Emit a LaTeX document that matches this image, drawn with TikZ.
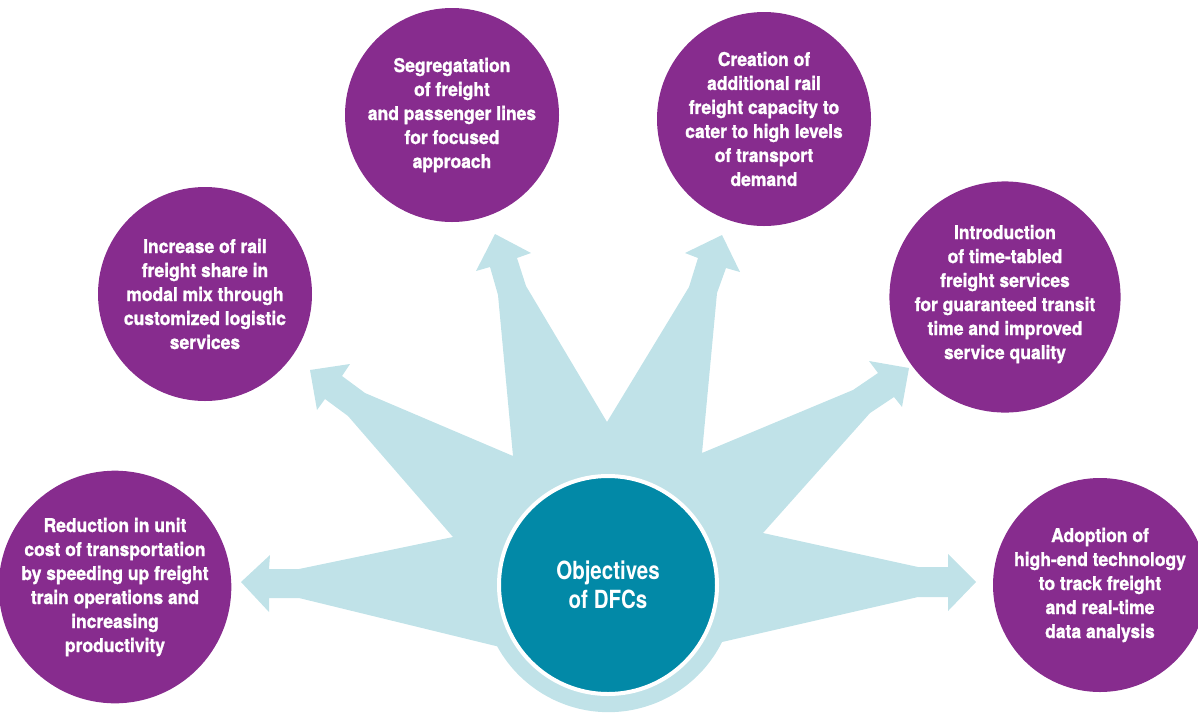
\documentclass[tikz,border=0pt]{standalone}
\usepackage{fontspec}
\setmainfont{TeX Gyre Heros}[FakeStretch=0.82]
\newfontfamily\goalfont{TeX Gyre Heros}[FakeStretch=0.92,BoldFeatures={FakeBold=1.2}]
\definecolor{plum}{HTML}{872C8E}
\definecolor{paleblue}{HTML}{C0E2E8}
\definecolor{deepteal}{HTML}{0289A7}
\begin{document}
\begin{tikzpicture}[x=1pt,y=-1pt,
  goal/.style={circle,fill=plum,minimum size=214pt,inner sep=0pt,
    text=white,align=center,font=\goalfont\fontsize{19}{24}\selectfont\bfseries},
  hub/.style={circle,fill=deepteal,draw=white,line width=4pt,minimum size=218pt,
    inner sep=0pt,text=white,align=center,font=\fontsize{25}{29}\selectfont\bfseries}]
\useasboundingbox (0,0) rectangle (1198,713);

% star of six arrows radiating from the hub
\fill[paleblue]
  (241,582) -- (270,555) -- (269,569) -- (299,569) -- (453,537)
  -- (348,416) -- (325,399) -- (317,410) -- (310,370) -- (350,364) -- (342,376) -- (365,393) -- (513,456)
  -- (498,295) -- (490,267) -- (476,271) -- (495,234) -- (531,253) -- (517,258) -- (526,286) -- (607,422)
  -- (689,287) -- (698,258) -- (685,253) -- (722,235) -- (740,272) -- (726,268) -- (717,293) -- (702,453)
  -- (853,390) -- (878,373) -- (869,361) -- (909,368) -- (902,407) -- (894,397) -- (870,413) -- (763,533)
  -- (918,567) -- (948,567) -- (948,554) -- (976,582) -- (948,611) -- (948,597) -- (918,597) -- (722,642)
  arc[start angle=26.6,end angle=151.2,radius=127]
  -- (299,598) -- (269,598) -- (269,612) -- cycle;

\node[hub] (hub) at (608,585) {Objectives\\of DFCs};

\node[goal] (cost) at (115,587) {Reduction in unit\\cost of transportation\\by speeding up freight\\train operations and\\increasing\\productivity};
\node[goal] (share) at (205,294) {Increase of rail\\freight share in\\modal mix through\\customized logistic\\services};
\node[goal] (segr) at (452,115) {Segregatation\\of freight\\and passenger lines\\for focused\\approach};
\node[goal] (capa) at (764,119) {Creation of\\additional rail\\freight capacity to\\cater to high levels\\of transport\\demand};
\node[goal,text depth=10pt] (time) at (1005,297) {Introduction\\of time-tabled\\freight services\\for guaranteed transit\\time and improved\\service quality};
\node[goal] (tech) at (1100,585) {Adoption of\\high-end technology\\to track freight\\and real-time\\data analysis};
\end{tikzpicture}
\end{document}
